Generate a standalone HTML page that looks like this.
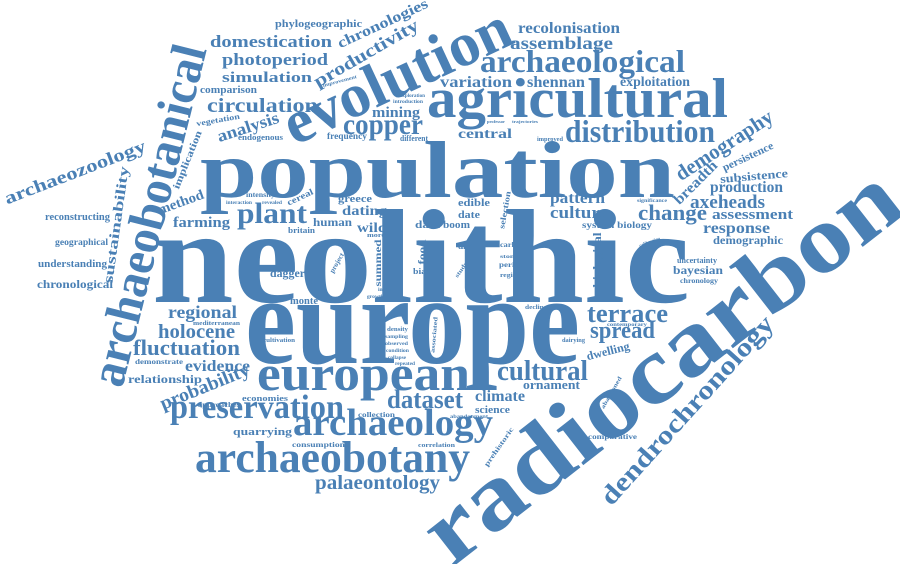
<!DOCTYPE html>
<html><head><meta charset="utf-8"><style>
html,body{margin:0;padding:0;background:#fff;overflow:hidden;}
svg{display:block;}
text{font-family:"Liberation Serif",serif;font-weight:bold;fill:#4a80b5;}
</style></head><body>
<svg width="900" height="564" viewBox="0 0 900 564">
<text x="152" y="302" font-size="134" textLength="538" lengthAdjust="spacingAndGlyphs">neolithic</text>
<text x="200" y="197" font-size="80" textLength="475" lengthAdjust="spacingAndGlyphs">population</text>
<text x="245" y="363" font-size="126" textLength="335" lengthAdjust="spacingAndGlyphs">europe</text>
<text x="660" y="364" font-size="96" text-anchor="middle" dominant-baseline="central" textLength="580" lengthAdjust="spacingAndGlyphs" transform="rotate(-38 660 364)">radiocarbon</text>
<text x="427" y="117" font-size="56" textLength="301" lengthAdjust="spacingAndGlyphs">agricultural</text>
<text x="397" y="76" font-size="62" text-anchor="middle" dominant-baseline="central" textLength="245" lengthAdjust="spacingAndGlyphs" transform="rotate(-25 397 76)">evolution</text>
<text x="257" y="390" font-size="50" textLength="213" lengthAdjust="spacingAndGlyphs">european</text>
<text x="148" y="215" font-size="50" text-anchor="middle" dominant-baseline="central" textLength="350" lengthAdjust="spacingAndGlyphs" transform="rotate(-76 148 215)">archaeobotanical</text>
<text x="195" y="472" font-size="44" textLength="275" lengthAdjust="spacingAndGlyphs">archaeobotany</text>
<text x="293" y="435" font-size="38" textLength="200" lengthAdjust="spacingAndGlyphs">archaeology</text>
<text x="170" y="418" font-size="34" textLength="174" lengthAdjust="spacingAndGlyphs">preservation</text>
<text x="565" y="142" font-size="32" textLength="150" lengthAdjust="spacingAndGlyphs">distribution</text>
<text x="343" y="134" font-size="30" textLength="80" lengthAdjust="spacingAndGlyphs">copper</text>
<text x="480" y="72" font-size="32" textLength="205" lengthAdjust="spacingAndGlyphs">archaeological</text>
<text x="237" y="223" font-size="30" textLength="70" lengthAdjust="spacingAndGlyphs">plant</text>
<text x="497" y="380" font-size="28" textLength="91" lengthAdjust="spacingAndGlyphs">cultural</text>
<text x="387" y="408" font-size="26" textLength="76" lengthAdjust="spacingAndGlyphs">dataset</text>
<text x="587" y="322" font-size="26" textLength="81" lengthAdjust="spacingAndGlyphs">terrace</text>
<text x="590" y="338" font-size="24" textLength="65" lengthAdjust="spacingAndGlyphs">spread</text>
<text x="133" y="355" font-size="22" textLength="107" lengthAdjust="spacingAndGlyphs">fluctuation</text>
<text x="158" y="338" font-size="20" textLength="77" lengthAdjust="spacingAndGlyphs">holocene</text>
<text x="168" y="318" font-size="18" textLength="69" lengthAdjust="spacingAndGlyphs">regional</text>
<text x="185" y="371" font-size="16" textLength="65" lengthAdjust="spacingAndGlyphs">evidence</text>
<text x="205" y="387" font-size="19" text-anchor="middle" dominant-baseline="central" textLength="95" lengthAdjust="spacingAndGlyphs" transform="rotate(-22 205 387)">probability</text>
<text x="687" y="410" font-size="26" text-anchor="middle" dominant-baseline="central" textLength="245" lengthAdjust="spacingAndGlyphs" transform="rotate(-48 687 410)">dendrochronology</text>
<text x="315" y="489" font-size="20" textLength="125" lengthAdjust="spacingAndGlyphs">palaeontology</text>
<text x="724" y="145" font-size="21" text-anchor="middle" dominant-baseline="central" textLength="112" lengthAdjust="spacingAndGlyphs" transform="rotate(-33 724 145)">demography</text>
<text x="638" y="220" font-size="22" textLength="69" lengthAdjust="spacingAndGlyphs">change</text>
<text x="690" y="208" font-size="19" textLength="75" lengthAdjust="spacingAndGlyphs">axeheads</text>
<text x="710" y="192" font-size="16" textLength="73" lengthAdjust="spacingAndGlyphs">production</text>
<text x="712" y="219" font-size="15" textLength="81" lengthAdjust="spacingAndGlyphs">assessment</text>
<text x="703" y="233" font-size="16" textLength="67" lengthAdjust="spacingAndGlyphs">response</text>
<text x="713" y="244" font-size="12" textLength="70" lengthAdjust="spacingAndGlyphs">demographic</text>
<text x="677" y="263" font-size="8" textLength="40" lengthAdjust="spacingAndGlyphs">uncertainty</text>
<text x="673" y="274" font-size="12" textLength="50" lengthAdjust="spacingAndGlyphs">bayesian</text>
<text x="680" y="283" font-size="7" textLength="38" lengthAdjust="spacingAndGlyphs">chronology</text>
<text x="550" y="218" font-size="17" textLength="58" lengthAdjust="spacingAndGlyphs">culture</text>
<text x="550" y="203" font-size="16" textLength="55" lengthAdjust="spacingAndGlyphs">pattern</text>
<text x="597" y="260" font-size="12" text-anchor="middle" dominant-baseline="central" textLength="55" lengthAdjust="spacingAndGlyphs" transform="rotate(-90 597 260)">biological</text>
<text x="582" y="228" font-size="9" textLength="70" lengthAdjust="spacingAndGlyphs">system biology</text>
<text x="637" y="202" font-size="5" textLength="30" lengthAdjust="spacingAndGlyphs">significance</text>
<text x="475" y="401" font-size="16" textLength="50" lengthAdjust="spacingAndGlyphs">climate</text>
<text x="475" y="413" font-size="10" textLength="35" lengthAdjust="spacingAndGlyphs">science</text>
<text x="523" y="389" font-size="13" textLength="57" lengthAdjust="spacingAndGlyphs">ornament</text>
<text x="608" y="351" font-size="12" text-anchor="middle" dominant-baseline="central" textLength="44" lengthAdjust="spacingAndGlyphs" transform="rotate(-14 608 351)">dwelling</text>
<text x="607" y="326" font-size="5" textLength="40" lengthAdjust="spacingAndGlyphs">contemporary</text>
<text x="562" y="342" font-size="6" textLength="23" lengthAdjust="spacingAndGlyphs">dairying</text>
<text x="518" y="33" font-size="16" textLength="102" lengthAdjust="spacingAndGlyphs">recolonisation</text>
<text x="510" y="49" font-size="18" textLength="103" lengthAdjust="spacingAndGlyphs">assemblage</text>
<text x="440" y="87" font-size="16" textLength="72" lengthAdjust="spacingAndGlyphs">variation</text>
<text x="527" y="87" font-size="16" textLength="58" lengthAdjust="spacingAndGlyphs">shennan</text>
<text x="620" y="86" font-size="14" textLength="70" lengthAdjust="spacingAndGlyphs">exploitation</text>
<text x="210" y="47" font-size="17" textLength="122" lengthAdjust="spacingAndGlyphs">domestication</text>
<text x="222" y="65" font-size="17" textLength="106" lengthAdjust="spacingAndGlyphs">photoperiod</text>
<text x="222" y="82" font-size="15" textLength="90" lengthAdjust="spacingAndGlyphs">simulation</text>
<text x="207" y="112" font-size="20" textLength="111" lengthAdjust="spacingAndGlyphs">circulation</text>
<text x="366" y="53" font-size="18" text-anchor="middle" dominant-baseline="central" textLength="118" lengthAdjust="spacingAndGlyphs" transform="rotate(-30 366 53)">productivity</text>
<text x="383" y="24" font-size="15" text-anchor="middle" dominant-baseline="central" textLength="98" lengthAdjust="spacingAndGlyphs" transform="rotate(-25 383 24)">chronologies</text>
<text x="275" y="27" font-size="11" textLength="87" lengthAdjust="spacingAndGlyphs">phylogeographic</text>
<text x="200" y="93" font-size="10" textLength="57" lengthAdjust="spacingAndGlyphs">comparison</text>
<text x="340" y="82" font-size="5" text-anchor="middle" dominant-baseline="central" textLength="35" lengthAdjust="spacingAndGlyphs" transform="rotate(-15 340 82)">improvement</text>
<text x="400" y="97" font-size="5" textLength="25" lengthAdjust="spacingAndGlyphs">exploration</text>
<text x="393" y="103" font-size="5" textLength="30" lengthAdjust="spacingAndGlyphs">introduction</text>
<text x="248" y="127" font-size="17" text-anchor="middle" dominant-baseline="central" textLength="64" lengthAdjust="spacingAndGlyphs" transform="rotate(-18 248 127)">analysis</text>
<text x="238" y="140" font-size="8" textLength="45" lengthAdjust="spacingAndGlyphs">endogenous</text>
<text x="218" y="120" font-size="8" text-anchor="middle" dominant-baseline="central" textLength="44" lengthAdjust="spacingAndGlyphs" transform="rotate(-10 218 120)">vegetation</text>
<text x="188" y="160" font-size="10" text-anchor="middle" dominant-baseline="central" textLength="62" lengthAdjust="spacingAndGlyphs" transform="rotate(-68 188 160)">implication</text>
<text x="372" y="117" font-size="15" textLength="48" lengthAdjust="spacingAndGlyphs">mining</text>
<text x="327" y="139" font-size="9" textLength="40" lengthAdjust="spacingAndGlyphs">frequency</text>
<text x="400" y="141" font-size="8" textLength="28" lengthAdjust="spacingAndGlyphs">different</text>
<text x="458" y="138" font-size="14" textLength="54" lengthAdjust="spacingAndGlyphs">central</text>
<text x="487" y="123" font-size="4" textLength="18" lengthAdjust="spacingAndGlyphs">professor</text>
<text x="512" y="123" font-size="4" textLength="26" lengthAdjust="spacingAndGlyphs">trajectories</text>
<text x="537" y="141" font-size="6" textLength="26" lengthAdjust="spacingAndGlyphs">improved</text>
<text x="75" y="172" font-size="18" text-anchor="middle" dominant-baseline="central" textLength="150" lengthAdjust="spacingAndGlyphs" transform="rotate(-21 75 172)">archaeozoology</text>
<text x="117" y="225" font-size="14" text-anchor="middle" dominant-baseline="central" textLength="118" lengthAdjust="spacingAndGlyphs" transform="rotate(-82 117 225)">sustainability</text>
<text x="45" y="220" font-size="10" textLength="65" lengthAdjust="spacingAndGlyphs">reconstructing</text>
<text x="55" y="245" font-size="9" textLength="53" lengthAdjust="spacingAndGlyphs">geographical</text>
<text x="38" y="267" font-size="10" textLength="69" lengthAdjust="spacingAndGlyphs">understanding</text>
<text x="37" y="288" font-size="12" textLength="76" lengthAdjust="spacingAndGlyphs">chronological</text>
<text x="181" y="203" font-size="14" text-anchor="middle" dominant-baseline="central" textLength="48" lengthAdjust="spacingAndGlyphs" transform="rotate(-20 181 203)">method</text>
<text x="173" y="227" font-size="15" textLength="57" lengthAdjust="spacingAndGlyphs">farming</text>
<text x="246" y="197" font-size="7" textLength="29" lengthAdjust="spacingAndGlyphs">intensity</text>
<text x="226" y="204" font-size="5" textLength="26" lengthAdjust="spacingAndGlyphs">interaction</text>
<text x="262" y="204" font-size="5" textLength="20" lengthAdjust="spacingAndGlyphs">revealed</text>
<text x="300" y="197" font-size="9" text-anchor="middle" dominant-baseline="central" textLength="28" lengthAdjust="spacingAndGlyphs" transform="rotate(-25 300 197)">cereal</text>
<text x="270" y="277" font-size="12" textLength="35" lengthAdjust="spacingAndGlyphs">dagger</text>
<text x="290" y="304" font-size="10" textLength="28" lengthAdjust="spacingAndGlyphs">monte</text>
<text x="337" y="263" font-size="7" text-anchor="middle" dominant-baseline="central" textLength="22" lengthAdjust="spacingAndGlyphs" transform="rotate(-60 337 263)">project</text>
<text x="357" y="232" font-size="14" textLength="30" lengthAdjust="spacingAndGlyphs">wild</text>
<text x="367" y="237" font-size="6" textLength="18" lengthAdjust="spacingAndGlyphs">more</text>
<text x="342" y="215" font-size="14" textLength="45" lengthAdjust="spacingAndGlyphs">dating</text>
<text x="313" y="226" font-size="12" textLength="39" lengthAdjust="spacingAndGlyphs">human</text>
<text x="288" y="233" font-size="8" textLength="27" lengthAdjust="spacingAndGlyphs">britain</text>
<text x="338" y="202" font-size="10" textLength="34" lengthAdjust="spacingAndGlyphs">greece</text>
<text x="378" y="263" font-size="9" text-anchor="middle" dominant-baseline="central" textLength="47" lengthAdjust="spacingAndGlyphs" transform="rotate(-90 378 263)">summed</text>
<text x="378" y="291" font-size="5" textLength="14" lengthAdjust="spacingAndGlyphs">initial</text>
<text x="367" y="298" font-size="5" textLength="17" lengthAdjust="spacingAndGlyphs">growth</text>
<text x="423" y="252" font-size="10" text-anchor="middle" dominant-baseline="central" textLength="25" lengthAdjust="spacingAndGlyphs" transform="rotate(-90 423 252)">food</text>
<text x="413" y="274" font-size="8" textLength="17" lengthAdjust="spacingAndGlyphs">bias</text>
<text x="415" y="228" font-size="11" textLength="25" lengthAdjust="spacingAndGlyphs">data</text>
<text x="443" y="228" font-size="10" textLength="27" lengthAdjust="spacingAndGlyphs">boom</text>
<text x="458" y="206" font-size="11" textLength="32" lengthAdjust="spacingAndGlyphs">edible</text>
<text x="458" y="218" font-size="10" textLength="22" lengthAdjust="spacingAndGlyphs">date</text>
<text x="458" y="249" font-size="8" textLength="15" lengthAdjust="spacingAndGlyphs">diet</text>
<text x="462" y="270" font-size="6" text-anchor="middle" dominant-baseline="central" textLength="18" lengthAdjust="spacingAndGlyphs" transform="rotate(-55 462 270)">study</text>
<text x="505" y="210" font-size="8" text-anchor="middle" dominant-baseline="central" textLength="38" lengthAdjust="spacingAndGlyphs" transform="rotate(-80 505 210)">selection</text>
<text x="500" y="247" font-size="7" textLength="18" lengthAdjust="spacingAndGlyphs">carlo</text>
<text x="500" y="258" font-size="5" textLength="18" lengthAdjust="spacingAndGlyphs">stone</text>
<text x="499" y="267" font-size="7" textLength="25" lengthAdjust="spacingAndGlyphs">period</text>
<text x="500" y="277" font-size="6" textLength="21" lengthAdjust="spacingAndGlyphs">region</text>
<text x="525" y="309" font-size="6" textLength="22" lengthAdjust="spacingAndGlyphs">decline</text>
<text x="263" y="342" font-size="6" textLength="32" lengthAdjust="spacingAndGlyphs">cultivation</text>
<text x="193" y="325" font-size="6" textLength="47" lengthAdjust="spacingAndGlyphs">mediterranean</text>
<text x="135" y="364" font-size="7" textLength="48" lengthAdjust="spacingAndGlyphs">demonstrate</text>
<text x="128" y="383" font-size="12" textLength="74" lengthAdjust="spacingAndGlyphs">relationship</text>
<text x="198" y="407" font-size="7" textLength="42" lengthAdjust="spacingAndGlyphs">approaches</text>
<text x="242" y="401" font-size="8" textLength="46" lengthAdjust="spacingAndGlyphs">economies</text>
<text x="387" y="331" font-size="6" textLength="21" lengthAdjust="spacingAndGlyphs">density</text>
<text x="385" y="338" font-size="5" textLength="23" lengthAdjust="spacingAndGlyphs">sampling</text>
<text x="385" y="345" font-size="5" textLength="23" lengthAdjust="spacingAndGlyphs">observed</text>
<text x="386" y="352" font-size="5" textLength="23" lengthAdjust="spacingAndGlyphs">condition</text>
<text x="388" y="359" font-size="5" textLength="18" lengthAdjust="spacingAndGlyphs">collapse</text>
<text x="395" y="365" font-size="5" textLength="20" lengthAdjust="spacingAndGlyphs">repeated</text>
<text x="435" y="335" font-size="6" text-anchor="middle" dominant-baseline="central" textLength="36" lengthAdjust="spacingAndGlyphs" transform="rotate(-85 435 335)">associated</text>
<text x="233" y="435" font-size="11" textLength="59" lengthAdjust="spacingAndGlyphs">quarrying</text>
<text x="292" y="447" font-size="7" textLength="53" lengthAdjust="spacingAndGlyphs">consumption</text>
<text x="358" y="417" font-size="7" textLength="37" lengthAdjust="spacingAndGlyphs">collection</text>
<text x="450" y="418" font-size="5" textLength="38" lengthAdjust="spacingAndGlyphs">abandonment</text>
<text x="418" y="447" font-size="6" textLength="37" lengthAdjust="spacingAndGlyphs">correlation</text>
<text x="499" y="447" font-size="7" text-anchor="middle" dominant-baseline="central" textLength="46" lengthAdjust="spacingAndGlyphs" transform="rotate(-55 499 447)">prehistoric</text>
<text x="588" y="439" font-size="7" textLength="49" lengthAdjust="spacingAndGlyphs">comparative</text>
<text x="612" y="393" font-size="6" text-anchor="middle" dominant-baseline="central" textLength="36" lengthAdjust="spacingAndGlyphs" transform="rotate(-60 612 393)">abandoned</text>
<text x="748" y="157" font-size="11" text-anchor="middle" dominant-baseline="central" textLength="55" lengthAdjust="spacingAndGlyphs" transform="rotate(-25 748 157)">persistence</text>
<text x="696" y="183" font-size="15" text-anchor="middle" dominant-baseline="central" textLength="55" lengthAdjust="spacingAndGlyphs" transform="rotate(-45 696 183)">breadth</text>
<text x="720" y="180" font-size="12" textLength="68" lengthAdjust="spacingAndGlyphs" transform="rotate(-5 754 176)">subsistence</text>
<text x="650" y="243" font-size="5" text-anchor="middle" dominant-baseline="central" textLength="22" lengthAdjust="spacingAndGlyphs" transform="rotate(-20 650 243)">calibration</text>
</svg>
</body></html>
